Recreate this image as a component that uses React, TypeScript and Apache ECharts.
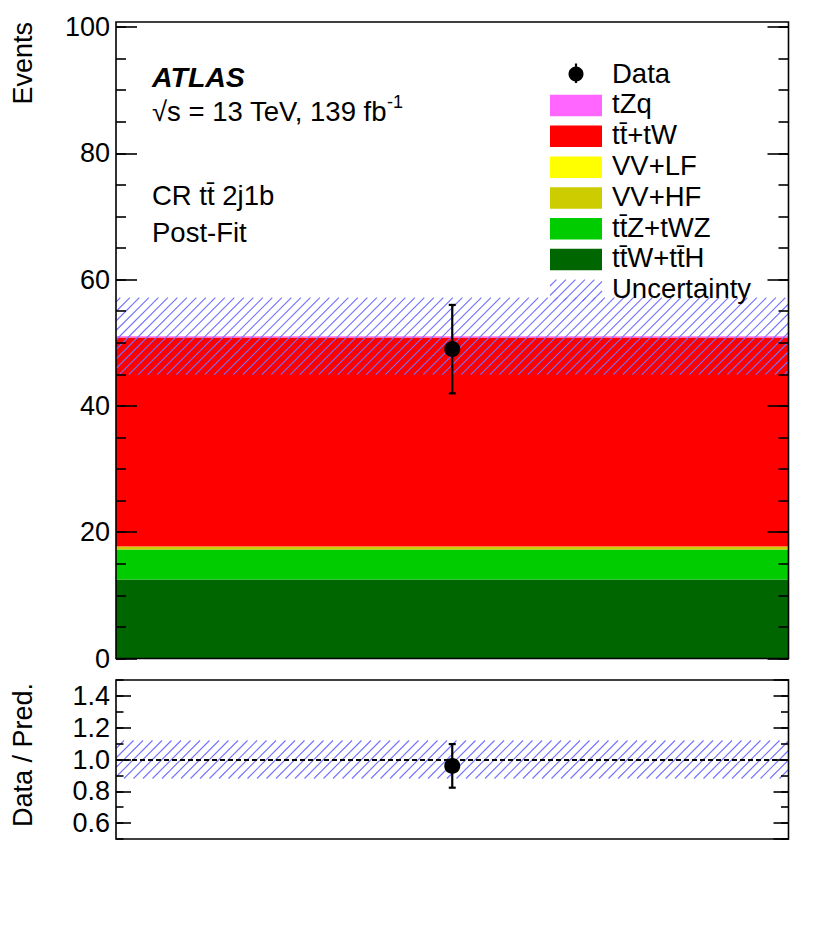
import { useEffect, useRef } from 'react';
import * as echarts from 'echarts';

// ---------- data ----------
const categories = ['CR tt\u0304 2j1b'];
const sampleNames = ['tZq', 'tt\u0304+tW', 'VV+LF', 'VV+HF', 'tt\u0304Z+tWZ', 'tt\u0304W+tt\u0304H'];
const sampleColors = ['#ff66ff', '#ff0000', '#ffff00', '#cccc00', '#00cc00', '#006600'];
const sampleYields = [0.2, 33.1, 0.1, 0.4, 4.75, 12.5];
const dataYields = [49];
const dataErrors = [7];
const totalUncertainty = [6.1];
const mainAxis = { min: 0, max: 100, interval: 20, minorInterval: 5 };
const ratioAxis = { min: 0.5, max: 1.5, splitNumber: 5, minorInterval: 0.1 };
const legendDataName = 'Data';
const legendUncName = 'Uncertainty';

const FONT = '"Liberation Sans", Arial, Helvetica, sans-serif';
const HATCH_COLOR = '#7272ff';
const HATCH_STEP = 9.5;

function hatch(x0: number, y0: number, x1: number, y1: number) {
  const lines: any[] = [];
  const start = Math.ceil((x0 + y0) / HATCH_STEP) * HATCH_STEP;
  for (let c = start; c <= x1 + y1; c += HATCH_STEP) {
    const xa = Math.max(x0, c - y1);
    const xb = Math.min(x1, c - y0);
    if (xb > xa) {
      lines.push({
        type: 'line',
        shape: { x1: xa, y1: c - xa, x2: xb, y2: c - xb },
        style: { stroke: HATCH_COLOR, lineWidth: 1.1 },
      });
    }
  }
  return lines;
}

function bandRender(params: any, api: any) {
  const lo = api.coord([api.value(0), api.value(1)]);
  const hi = api.coord([api.value(0), api.value(2)]);
  const w = api.size([1, 0])[0];
  return { type: 'group', children: hatch(lo[0] - w / 2, hi[1], lo[0] + w / 2, lo[1]) };
}

function errRender(params: any, api: any) {
  const v = api.value(1);
  const e = api.value(2);
  const top = api.coord([api.value(0), v + e]);
  const bot = api.coord([api.value(0), v - e]);
  const st = { stroke: '#000', lineWidth: 2.2 };
  return {
    type: 'group',
    children: [
      { type: 'line', shape: { x1: top[0], y1: top[1], x2: bot[0], y2: bot[1] }, style: st },
      { type: 'line', shape: { x1: top[0] - 3.5, y1: top[1], x2: top[0] + 3.5, y2: top[1] }, style: st },
      { type: 'line', shape: { x1: bot[0] - 3.5, y1: bot[1], x2: bot[0] + 3.5, y2: bot[1] }, style: st },
    ],
  };
}

function yAxisDef(grid: number, pos: string, min: number, max: number, extra: any, len: number, labels: boolean, fmt?: any, hideEnds = false) {
  return {
    type: 'value',
    gridIndex: grid,
    position: pos,
    min,
    max,
    ...extra,
    z: 10,
    axisLine: { show: false },
    splitLine: { show: false },
    axisTick: { show: true, inside: true, length: len, lineStyle: { color: '#000', width: 1.6 } },
    axisLabel: labels
      ? {
          show: true,
          color: '#000',
          fontSize: 27,
          fontFamily: FONT,
          margin: 6,
          formatter: fmt,
          showMinLabel: !hideEnds,
          showMaxLabel: !hideEnds,
          hideOverlap: false,
        }
      : { show: false },
  };
}

export default function App() {
  const ref = useRef<HTMLDivElement>(null);
  useEffect(() => {
    if (!ref.current) return;
    const chart = echarts.init(ref.current, null, { renderer: 'svg', width: 830, height: 936 });
    const totals = categories.map(() => sampleYields.reduce((a, b) => a + b, 0));
    const ratios = dataYields.map((d, i) => d / totals[i]);
    const ratioErr = dataErrors.map((e, i) => e / totals[i]);
    const ratioUnc = totalUncertainty.map((u, i) => u / totals[i]);

    const stackOrder = sampleNames.map((_, i) => i).reverse();
    const barSeries = stackOrder.map((i) => ({
      type: 'bar',
      name: sampleNames[i],
      stack: 'bkg',
      xAxisIndex: 0,
      yAxisIndex: 0,
      barWidth: '100%',
      silent: true,
      z: 2,
      data: categories.map(() => sampleYields[i]),
      itemStyle: { color: sampleColors[i] },
    }));

    const frameStyle = { fill: 'none', stroke: '#000', lineWidth: 1.6 };
    const txt = (text: string, x: number, y: number, extra: any = {}) => ({
      type: 'text',
      x,
      y,
      z: 30,
      style: { text, fill: '#000', font: `27.5px ${FONT}`, textVerticalAlign: 'middle', textAlign: 'left', ...extra },
    });

    const rowY = (i: number) => 73 + i * 30.8;
    const legendEls: any[] = [];
    legendEls.push({ type: 'line', z: 30, shape: { x1: 576, y1: rowY(0) - 9.5, x2: 576, y2: rowY(0) + 10 }, style: { stroke: '#000', lineWidth: 2.2 } });
    legendEls.push({ type: 'circle', z: 30, shape: { cx: 576, cy: rowY(0) + 1, r: 7.5 }, style: { fill: '#000' } });
    legendEls.push(txt(legendDataName, 612, rowY(0)));
    sampleNames.forEach((n, i) => {
      const y = rowY(i + 1);
      legendEls.push({ type: 'rect', z: 30, shape: { x: 550, y: y - 9, width: 52, height: 21.5 }, style: { fill: sampleColors[i] } });
      legendEls.push(txt(n, 612, y));
    });
    const uy = rowY(7);
    legendEls.push({ type: 'group', z: 30, children: hatch(550, uy - 9, 602, uy + 12.5) });
    legendEls.push(txt(legendUncName, 612, uy));

    const option: any = {
      animation: false,
      backgroundColor: '#fff',
      grid: [
        { left: 116, top: 27.1, width: 672.5, height: 631.4 },
        { left: 116, top: 680, width: 672.5, height: 159 },
      ],
      xAxis: [0, 1].map((g) => ({
        type: 'category',
        gridIndex: g,
        data: categories,
        axisLine: { show: false },
        axisTick: { show: false },
        axisLabel: { show: false },
        splitLine: { show: false },
      })),
      yAxis: [
        yAxisDef(0, 'left', mainAxis.min, mainAxis.max, { interval: mainAxis.interval }, 21, true, (v: number) => String(v)),
        yAxisDef(0, 'right', mainAxis.min, mainAxis.max, { interval: mainAxis.interval }, 21, false),
        yAxisDef(0, 'left', mainAxis.min, mainAxis.max, { interval: mainAxis.minorInterval }, 10, false),
        yAxisDef(0, 'right', mainAxis.min, mainAxis.max, { interval: mainAxis.minorInterval }, 10, false),
        yAxisDef(1, 'left', ratioAxis.min, ratioAxis.max, { splitNumber: ratioAxis.splitNumber }, 15, true, (v: number) => v.toFixed(1), true),
        yAxisDef(1, 'right', ratioAxis.min, ratioAxis.max, { splitNumber: ratioAxis.splitNumber }, 15, false),
        yAxisDef(1, 'left', ratioAxis.min, ratioAxis.max, { interval: ratioAxis.minorInterval }, 7.5, false),
        yAxisDef(1, 'right', ratioAxis.min, ratioAxis.max, { interval: ratioAxis.minorInterval }, 7.5, false),
      ],
      series: [
        ...barSeries,
        {
          type: 'custom',
          name: legendUncName,
          xAxisIndex: 0,
          yAxisIndex: 0,
          z: 3,
          silent: true,
          renderItem: bandRender,
          data: categories.map((_, i) => [i, totals[i] - totalUncertainty[i], totals[i] + totalUncertainty[i]]),
        },
        {
          type: 'custom',
          name: 'Data errors',
          xAxisIndex: 0,
          yAxisIndex: 0,
          z: 4,
          silent: true,
          renderItem: errRender,
          data: categories.map((_, i) => [i, dataYields[i], dataErrors[i]]),
        },
        {
          type: 'scatter',
          name: legendDataName,
          xAxisIndex: 0,
          yAxisIndex: 0,
          z: 5,
          silent: true,
          symbolSize: 16,
          itemStyle: { color: '#000', opacity: 1 },
          data: categories.map((_, i) => [i, dataYields[i]]),
        },
        {
          type: 'custom',
          name: 'Ratio uncertainty',
          xAxisIndex: 1,
          yAxisIndex: 4,
          z: 3,
          silent: true,
          renderItem: bandRender,
          data: categories.map((_, i) => [i, 1 - ratioUnc[i], 1 + ratioUnc[i]]),
        },
        {
          type: 'custom',
          name: 'Ratio errors',
          xAxisIndex: 1,
          yAxisIndex: 4,
          z: 4,
          silent: true,
          renderItem: errRender,
          data: categories.map((_, i) => [i, ratios[i], ratioErr[i]]),
          markLine: {
            silent: true,
            symbol: ['none', 'none'],
            label: { show: false },
            lineStyle: { color: '#000', width: 2, type: [5, 3] },
            data: [{ yAxis: 1 }],
          },
        },
        {
          type: 'scatter',
          name: 'Ratio',
          xAxisIndex: 1,
          yAxisIndex: 4,
          z: 5,
          silent: true,
          symbolSize: 16,
          itemStyle: { color: '#000', opacity: 1 },
          data: categories.map((_, i) => [i, ratios[i]]),
        },
      ],
      graphic: [
        { type: 'rect', z: 25, shape: { x: 116, y: 22, width: 672.5, height: 636.5 }, style: frameStyle },
        { type: 'rect', z: 25, shape: { x: 116, y: 680, width: 672.5, height: 159 }, style: frameStyle },
        { ...txt('Events', 23, 22, { textAlign: 'right', font: `27px ${FONT}` }), rotation: Math.PI / 2 },
        { ...txt('Data / Pred.', 23, 683, { textAlign: 'right', font: `27px ${FONT}` }), rotation: Math.PI / 2 },
        txt('ATLAS', 152, 77, { font: `italic bold 28.5px ${FONT}` }),
        {
          type: 'text',
          x: 152,
          y: 109,
          z: 30,
          style: {
            text: '{n|\u221As = 13 TeV, 139 fb}{s|-1}',
            textVerticalAlign: 'middle',
            rich: {
              n: { fontSize: 27.5, fontFamily: FONT, fill: '#000', lineHeight: 32, verticalAlign: 'bottom' },
              s: { fontSize: 18, fontFamily: FONT, fill: '#000', lineHeight: 22, verticalAlign: 'top' },
            },
          },
        },
        txt(categories[0], 152, 195),
        txt('Post-Fit', 152, 232),
        ...legendEls,
      ],
    };
    chart.setOption(option);
    return () => chart.dispose();
  }, []);
  return <div ref={ref} style={{ position: 'absolute', left: 0, top: 0, width: 830, height: 936 }} />;
}
